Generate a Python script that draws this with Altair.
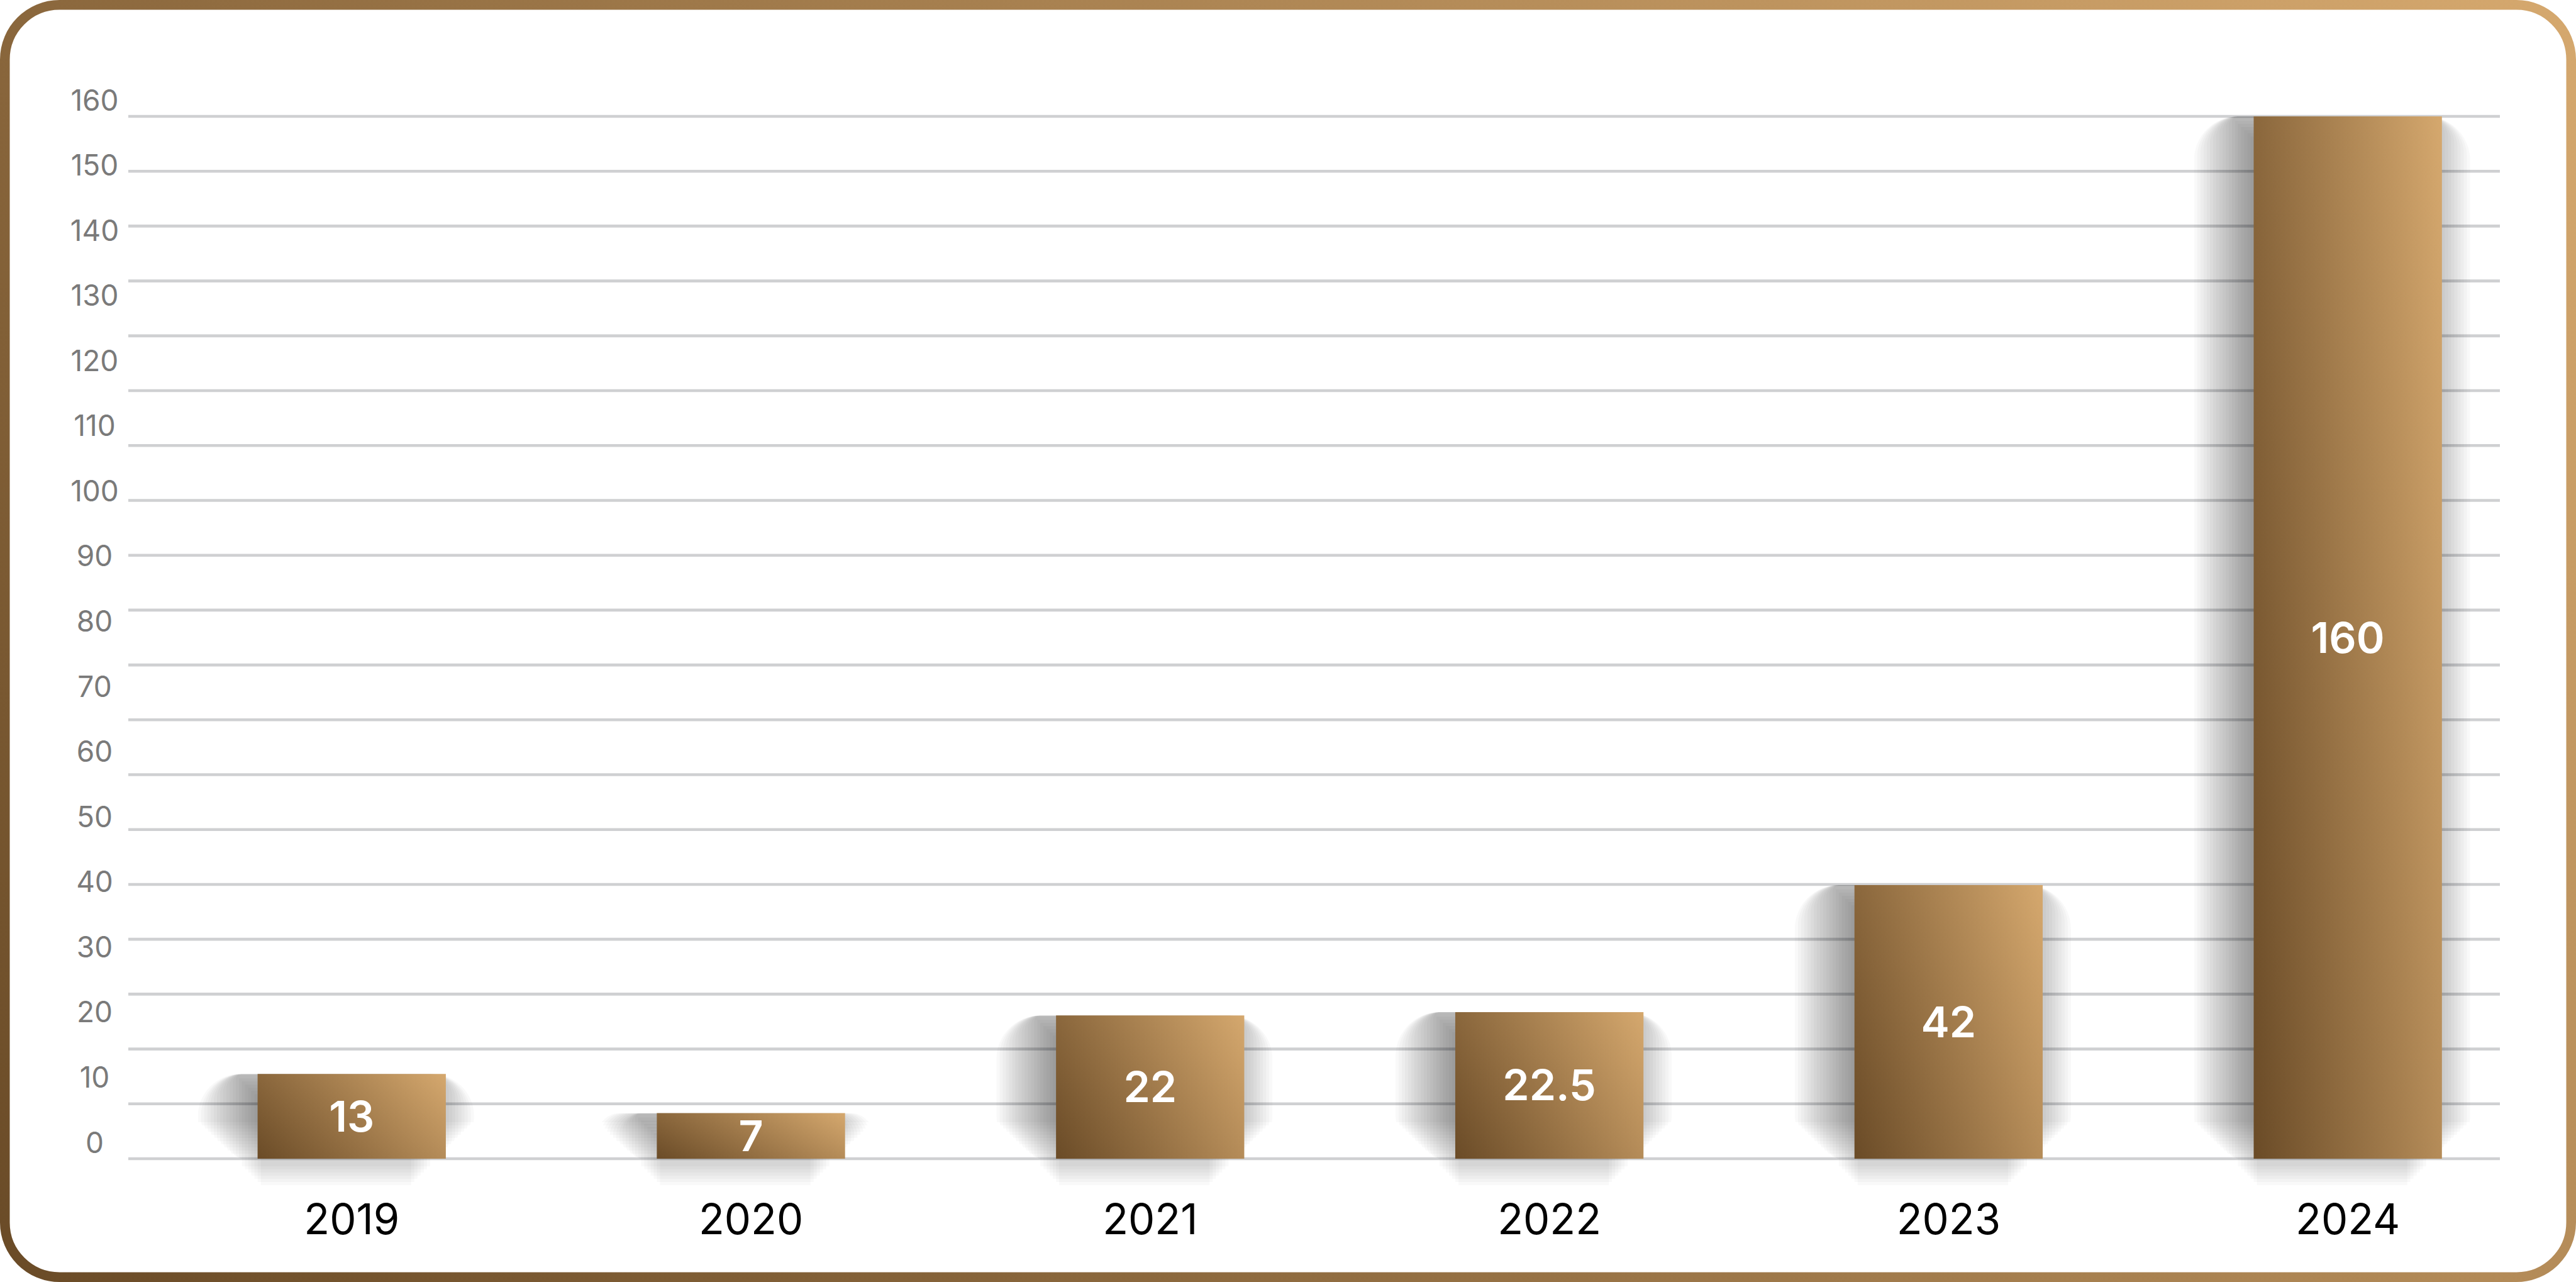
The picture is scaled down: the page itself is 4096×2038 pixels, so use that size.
import altair as alt
import pandas as pd

# ---- data ----
years = ["2019", "2020", "2021", "2022", "2023", "2024"]
values = [13, 7, 22, 22.5, 42, 160]
value_labels = ["13", "7", "22", "22.5", "42", "160"]
y_ticks = [0, 10, 20, 30, 40, 50, 60, 70, 80, 90, 100, 110, 120, 130, 140, 150, 160]
grid_steps = list(range(20))  # 20 evenly spaced guide lines

# ---- layout (target pixels) ----
W, H = 3771, 1657
PAD = {"left": 204, "top": 185, "right": 121, "bottom": 196}
FONT = "Inter"

df = pd.DataFrame({"year": years, "value": values, "label": value_labels})
grid_df = pd.DataFrame({"g": grid_steps})

DARK, LIGHT = "#6a4b27", "#d5a86e"
GRAD = alt.LinearGradient(
    gradient="linear",
    stops=[alt.GradientStop(color=DARK, offset=0), alt.GradientStop(color=LIGHT, offset=1)],
    x1=0, y1=1, x2=1.207, y2=0.483,
)

x_scale = alt.Scale(domain=years, range=[205.6, 3678.8], paddingInner=0.5285, paddingOuter=0)
y_scale = alt.Scale(domain=[0, 160], nice=False, zero=True)

x_axis = alt.Axis(title=None, labelFont=FONT, labelFontSize=67, labelColor="#000000",
                  labelPadding=99.7, labelBaseline="middle", ticks=False, tickSize=0,
                  domain=False, grid=False, labelAngle=0)
y_axis = alt.Axis(values=y_ticks, title=None, labelFont=FONT, labelFontSize=46,
                  labelColor="#7a7a7a", labelAlign="center", labelBaseline="middle",
                  labelPadding=54, labelOffset=-24, ticks=False, tickSize=0,
                  domain=False, grid=False, labelFlush=False, labelOverlap=False)

X = alt.X("year:N", scale=x_scale, axis=x_axis, sort=years)

# gridlines
grid = alt.Chart(grid_df).mark_rule(color="#cfd0d2", strokeWidth=4.6).encode(
    y=alt.Y("g:Q", scale=alt.Scale(domain=[0, 19], nice=False, zero=True), axis=None),
    x=alt.value(0), x2=alt.value(W),
)

# soft shadow approximated by stacked translucent rects
BW = 299.3
shadow_layers = []
for e in [-30, -25, -20, -15, -10, -5, 0, 5, 10, 15, 20, 25, 30, 35, 40, 45, 50, 55, 60, 65, 70]:
    shadow_layers.append(
        alt.Chart(df).mark_bar(
            width=BW + 2 * e, xOffset=-25, yOffset=12 - e, y2Offset=12 + e,
            cornerRadius=max(e, 0), color="#000000", opacity=0.022,
        ).encode(
            x=X,
            y=alt.Y("value:Q", scale=y_scale, axis=None),
        )
    )

bars = alt.Chart(df).mark_bar(fill=GRAD, width=BW).encode(
    x=X,
    y=alt.Y("value:Q", scale=y_scale, axis=y_axis),
)

text = alt.Chart(df).transform_calculate(mid="datum.value / 2").mark_text(
    color="#ffffff", font=FONT, fontSize=68, fontWeight=600, baseline="middle", dy=4,
).encode(
    x=X,
    y=alt.Y("mid:Q", scale=y_scale, axis=None),
    text="label:N",
)

HS = 7.75
border = alt.Chart(pd.DataFrame({"a": [0]})).mark_rect(
    fill="transparent", stroke=GRAD, strokeWidth=15.5, cornerRadius=87,
).encode(
    x=alt.value(-PAD["left"] + HS), x2=alt.value(W + PAD["right"] - HS),
    y=alt.value(-PAD["top"] + HS), y2=alt.value(H + PAD["bottom"] - HS),
)

chart = alt.layer(grid, *shadow_layers, bars, text, border).resolve_scale(
    y="independent"
).properties(
    width=W, height=H,
    autosize=alt.AutoSizeParams(type="none"),
    padding=PAD,
    background="#ffffff",
).configure_view(strokeWidth=0)

chart.save("out.html", embed_options={"renderer": "svg", "actions": False})
